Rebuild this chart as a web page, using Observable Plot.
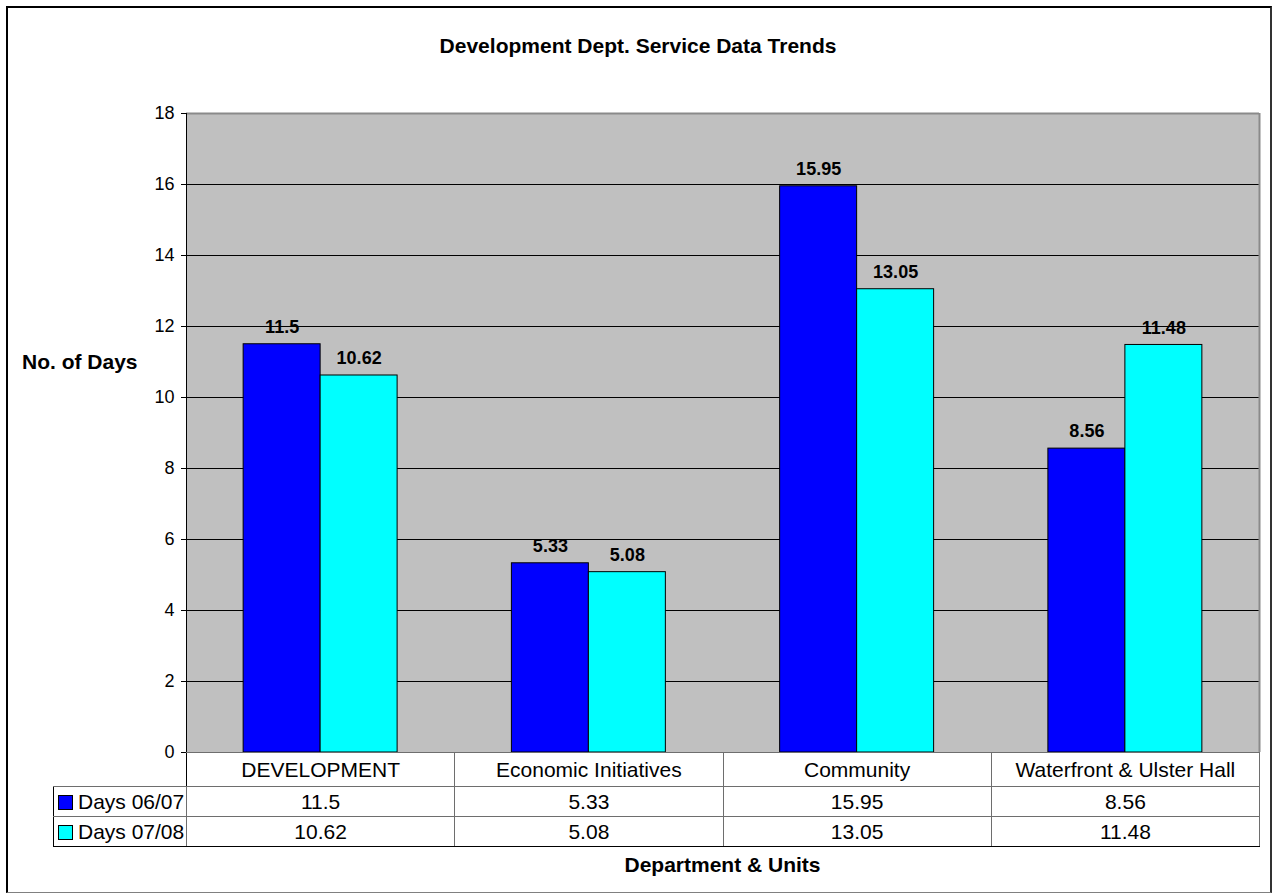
<!DOCTYPE html>
<html>
<head>
<meta charset="utf-8">
<script src="https://cdn.jsdelivr.net/npm/d3@7"></script>
<script src="https://cdn.jsdelivr.net/npm/@observablehq/plot@0.6"></script>
<style>
  html, body { margin: 0; padding: 0; background: #fff; }
  #wrap { position: relative; width: 1276px; height: 894px; background: #fff;
          font-family: "Liberation Sans", Arial, sans-serif; color: #000; overflow: hidden; }
  #frameBox { position: absolute; left: 6px; top: 6px; width: 1262px; height: 884px;
              border-left: 2px solid #000; border-top: 2px solid #000;
              border-right: 2px solid #333; border-bottom: 1px solid #808080; }
  #chart { position: absolute; left: 0; top: 0; }
  .lbl { position: absolute; font-weight: bold; font-size: 21px; line-height: 21px; white-space: nowrap; }
  #title { left: 0; width: 1276px; text-align: center; top: 35px; }
  #ylab { left: 22px; top: 351px; }
  #xlab { left: 186px; width: 1073px; text-align: center; top: 854px; }
  #tbl { position: absolute; left: 53px; top: 752px; border-collapse: collapse; table-layout: fixed;
         font-size: 21px; }
  #tbl td { padding: 0; border: 1px solid #6e6e6e; text-align: center; vertical-align: middle;
            white-space: nowrap; overflow: hidden; }
  #tbl td.blank { border: none; }
  #tbl tr.head td { height: 33px; }
  #tbl tr.val td { height: 29px; }
  #tbl tr.last td { border-bottom: 1px solid #000; }
  #tbl td.leg { text-align: left; border-left: 1px solid #000; }
  .key { display: inline-block; width: 13px; height: 13px; border: 1px solid #000; margin-left: 4px;
         margin-right: 5px; vertical-align: -1px; }
</style>
</head>
<body>
<div id="wrap">
  <div id="frameBox"></div>
  <div id="chart"></div>
  <div class="lbl" id="title">Development Dept. Service Data Trends</div>
  <div class="lbl" id="ylab">No. of Days</div>
  <div class="lbl" id="xlab">Department &amp; Units</div>
  <table id="tbl"></table>
</div>
<script>
// ---- data ----
const categories = ["DEVELOPMENT", "Economic Initiatives", "Community", "Waterfront & Ulster Hall"];
const seriesNames = ["Days 06/07", "Days 07/08"];
const days0607 = [11.5, 5.33, 15.95, 8.56];
const days0708 = [10.62, 5.08, 13.05, 11.48];
const yTicks = [0, 2, 4, 6, 8, 10, 12, 14, 16, 18];
const seriesColors = ["#0000FF", "#00FFFF"];

// ---- build table of rows ----
const seriesValues = [days0607, days0708];
const barWidth = 0.287; // fraction of category band per bar
const rows = [];
categories.forEach((cat, i) => {
  seriesNames.forEach((s, j) => {
    rows.push({
      category: cat,
      series: s,
      value: seriesValues[j][i],
      x1: i + 0.5 + (j - 1) * barWidth,
      x2: i + 0.5 + j * barWidth,
      xc: i + 0.5 + (j - 0.5) * barWidth
    });
  });
});

const gridTicks = yTicks.filter(t => t > yTicks[0] && t < yTicks[yTicks.length - 1]);

const chart = Plot.plot({
  width: 1276,
  height: 760,
  marginLeft: 186,
  marginRight: 17,
  marginTop: 113,
  marginBottom: 8,
  style: { background: "transparent", fontFamily: "'Liberation Sans', Arial, sans-serif", fontSize: "18px", color: "#000", overflow: "visible" },
  x: { domain: [0, categories.length], axis: null },
  y: { domain: [yTicks[0], yTicks[yTicks.length - 1]], axis: null },
  color: { domain: seriesNames, range: seriesColors },
  marks: [
    Plot.frame({ fill: "#C0C0C0", stroke: "none" }),
    Plot.ruleY(gridTicks, { stroke: "#000", strokeWidth: 1 }),
    Plot.ruleY([yTicks[yTicks.length - 1]], { stroke: "#8a8a8a", strokeWidth: 2 }),
    Plot.ruleX([categories.length], { stroke: "#8a8a8a", strokeWidth: 2 }),
    Plot.rectY(rows, { x1: "x1", x2: "x2", y1: 0, y2: "value", fill: "series", stroke: "#000", strokeWidth: 1 }),
    Plot.ruleX([0], { stroke: "#000", strokeWidth: 1 }),
    Plot.ruleY([0], { stroke: "#000", strokeWidth: 1 }),
    Plot.axisY({ ticks: yTicks, tickSize: 5, tickPadding: 7, label: null, fontSize: 18, stroke: "#000", fill: "#000" }),
    Plot.text(rows, { x: "xc", y: "value", text: d => String(d.value), dy: -17, fontWeight: "bold", fontSize: 18, fill: "#000" })
  ]
});
document.getElementById("chart").appendChild(chart);

// ---- data table under the chart ----
const tbl = document.getElementById("tbl");
const colgroup = document.createElement("colgroup");
const c0 = document.createElement("col"); c0.style.width = "133px"; colgroup.appendChild(c0);
categories.forEach(() => { const c = document.createElement("col"); c.style.width = (1073 / categories.length) + "px"; colgroup.appendChild(c); });
tbl.appendChild(colgroup);

const head = document.createElement("tr"); head.className = "head";
const blank = document.createElement("td"); blank.className = "blank"; head.appendChild(blank);
categories.forEach(cat => { const td = document.createElement("td"); td.textContent = cat; head.appendChild(td); });
head.children[1].style.borderLeft = "1px solid #000";
tbl.appendChild(head);

seriesNames.forEach((s, j) => {
  const tr = document.createElement("tr");
  tr.className = "val" + (j === seriesNames.length - 1 ? " last" : "");
  const lg = document.createElement("td"); lg.className = "leg";
  const key = document.createElement("span"); key.className = "key"; key.style.background = seriesColors[j];
  lg.appendChild(key); lg.appendChild(document.createTextNode(s));
  tr.appendChild(lg);
  categories.forEach((cat, i) => { const td = document.createElement("td"); td.textContent = String(seriesValues[j][i]); tr.appendChild(td); });
  tbl.appendChild(tr);
});
</script>
</body>
</html>
